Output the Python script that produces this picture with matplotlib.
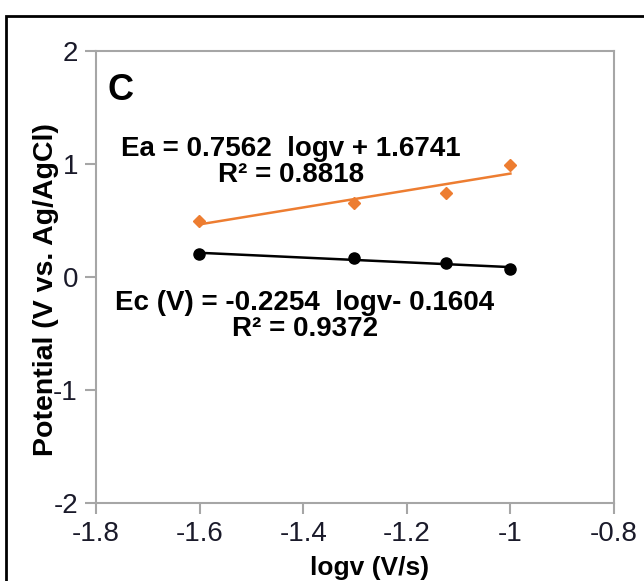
import numpy as np
import matplotlib
matplotlib.use('Agg')
import matplotlib.pyplot as plt
from matplotlib.patches import Rectangle

plt.rcParams['font.family'] = ['Liberation Sans', 'DejaVu Sans']
plt.rcParams['axes.unicode_minus'] = False

# --- DATA ---
logv = [-1.602, -1.301, -1.125, -1.0]          # log of scan rate 0.025 ... 0.1 V/s
Ea = [0.497, 0.656, 0.745, 0.993]              # anodic peak potential
Ec = [0.204, 0.168, 0.124, 0.071]              # cathodic peak potential
xticks = [-1.8, -1.6, -1.4, -1.2, -1.0, -0.8]
xtick_labels = ['-1.8', '-1.6', '-1.4', '-1.2', '-1', '-0.8']
yticks = [-2, -1, 0, 1, 2]

ORANGE = '#ed7d31'
GRAY = '#a6a6a6'

fig = plt.figure(figsize=(6.44, 5.81), dpi=100)
ax = fig.add_axes([96/644, 1 - 503/581, (614 - 96)/644, (503 - 51)/581])

# outer frame (only top/left visible in the crop)
fig.patches.append(Rectangle((6/644, -0.2), 1.2, 1.2 - 16/581, transform=fig.transFigure,
                             fill=False, edgecolor='black', linewidth=2.0))

# linear trendlines
x = np.array(logv)
pa = np.polyfit(x, Ea, 1)
pc = np.polyfit(x, Ec, 1)
xl = np.array([min(logv), max(logv)])
ax.plot(xl, np.polyval(pa, xl), color=ORANGE, lw=1.8, zorder=2)
ax.plot(xl, np.polyval(pc, xl), color='black', lw=1.8, zorder=2)

ax.plot(logv, Ea, linestyle='none', marker='D', ms=6.5, color=ORANGE, zorder=3)
ax.plot(logv, Ec, linestyle='none', marker='o', ms=8, color='black', zorder=3)

ax.set_xlim(-1.8, -0.8)
ax.set_ylim(-2, 2)
ax.set_xticks(xticks)
ax.set_xticklabels(xtick_labels)
ax.set_yticks(yticks)

for s in ax.spines.values():
    s.set_color(GRAY)
    s.set_linewidth(1.5)
ax.tick_params(direction='out', length=8, width=1.5, color=GRAY, labelsize=20,
               labelcolor='#1a1a2a', pad=5)

ax.set_xlabel('logv (V/s)', fontsize=19, fontweight='bold')
ax.xaxis.set_label_coords((370 - 96)/518, -0.118)
ax.set_ylabel('Potential (V vs. Ag/AgCl)', fontsize=20.5, fontweight='bold')
ax.yaxis.set_label_coords(-0.072, 0.472)

ax.text(0.023, 0.913, 'C', transform=ax.transAxes, fontsize=26, fontweight='bold',
        va='center', ha='left')
ax.text(0.376, 0.755, 'Ea = 0.7562  logv + 1.6741\nR² = 0.8818', transform=ax.transAxes,
        fontsize=20, fontweight='bold', ha='center', va='center', multialignment='center',
        linespacing=1.0)
ax.text(0.403, 0.413, 'Ec (V) = -0.2254  logv- 0.1604\nR² = 0.9372', transform=ax.transAxes,
        fontsize=20, fontweight='bold', ha='center', va='center', multialignment='center',
        linespacing=1.0)

plt.savefig('out.png', dpi=100)
plt.close()
